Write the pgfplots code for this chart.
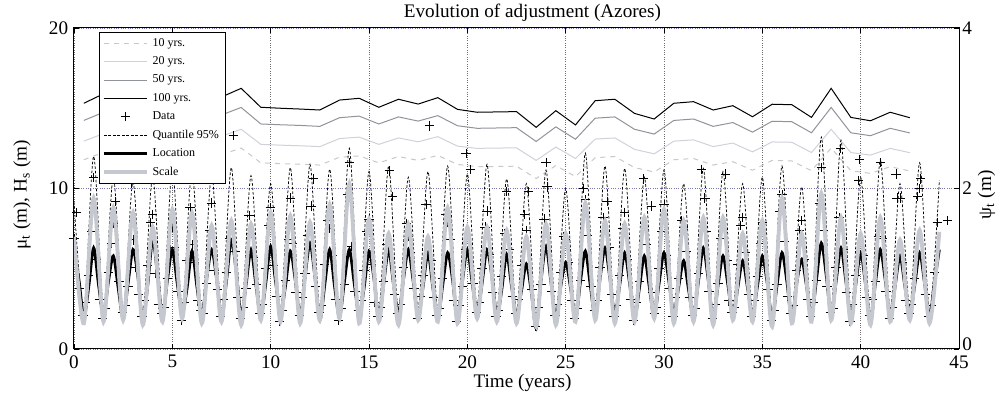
\documentclass[border=0pt]{standalone}
\usepackage{pgfplots}
\pgfplotsset{compat=1.18}
\usepackage{fontspec}
\setmainfont{Liberation Serif}
\definecolor{rlten}{RGB}{200,200,200}
\definecolor{rltwenty}{RGB}{208,209,218}
\definecolor{rlfifty}{RGB}{145,147,155}
\definecolor{scalec}{RGB}{198,200,207}
\definecolor{xgridc}{RGB}{110,110,110}
\definecolor{ygridc}{RGB}{120,120,175}
\pgfplotsset{
  plusleg/.style={legend image code/.code={\draw[mark repeat=2,mark phase=2,##1] plot coordinates {(0pt,0pt) (13pt,0pt) (26pt,0pt)};}},
}
\begin{document}
\begin{tikzpicture}
\pgfplotsset{
  every tick label/.append style={font=\fontsize{11.5}{13}\selectfont},
  /pgf/number format/assume math mode=true,
}
\begin{axis}[
  width=531pt, height=192.6pt, scale only axis,
  xmin=0, xmax=45, ymin=0, ymax=20,
  xtick={0,5,...,45}, ytick={0,10,20},
  xtick pos=both, ytick pos=left,
  tick align=inside, major tick length=3pt,
  tick style={black, line width=0.5pt},
  axis line style={line width=0.6pt},
  xmajorgrids, ymajorgrids,
  x grid style={densely dotted, xgridc, line width=0.4pt},
  y grid style={densely dotted, ygridc, line width=0.4pt},
  xticklabel style={yshift=-0.3pt},
  title={Evolution of adjustment (Azores)},
  title style={font=\fontsize{11.5}{13}\selectfont, at={(axis description cs:0.5,1)}, anchor=center, yshift=3.3pt, xshift=9.6pt},
  xlabel={Time (years)},
  xlabel style={font=\fontsize{11.5}{13}\selectfont, at={(axis description cs:0.5,0)}, anchor=center, yshift=-20.2pt, xshift=3.6pt},
  ylabel={μ\textsubscript{t} (m), H\textsubscript{s} (m)},
  ylabel style={font=\fontsize{11.5}{13}\selectfont, at={(axis description cs:-0.0588,0.48)}, anchor=center},
]
\coordinate (bl) at (rel axis cs:0,0);
\coordinate (tr) at (rel axis cs:1,1);
% 10 yrs
\addplot[rlten, dashed, line width=0.6pt] coordinates {
(0.5,11.79)(1.5,12.25)(2.5,12.10)(3.5,11.94)(4.5,12.17)(5.5,12.02)(6.5,11.86)(7.5,12.10)(8.5,12.52)(9.5,11.60)(10.5,11.55)(11.5,11.51)(12.5,11.46)(13.5,11.95)(14.5,12.03)(15.5,11.60)(16.5,11.99)(17.5,11.75)(18.5,12.06)(19.5,11.50)(20.5,11.36)(21.5,11.37)(22.5,11.39)(23.5,10.62)(24.5,11.43)(25.5,10.74)(26.5,11.92)(27.5,11.99)(28.5,11.30)(29.5,11.03)(30.5,11.79)(31.5,11.87)(32.5,11.46)(33.5,11.67)(34.5,11.14)(35.5,11.75)(36.5,11.72)(37.5,11.11)(38.5,12.52)(39.5,11.11)(40.5,10.94)(41.5,11.36)(42.5,11.09)};
% 20 yrs
\addplot[rltwenty, line width=0.6pt] coordinates {
(0.5,12.95)(1.5,13.42)(2.5,13.26)(3.5,13.10)(4.5,13.34)(5.5,13.18)(6.5,13.02)(7.5,13.26)(8.5,13.69)(9.5,12.75)(10.5,12.70)(11.5,12.66)(12.5,12.61)(13.5,13.11)(14.5,13.20)(15.5,12.75)(16.5,13.15)(17.5,12.91)(18.5,13.23)(19.5,12.64)(20.5,12.50)(21.5,12.52)(22.5,12.53)(23.5,11.75)(24.5,12.58)(25.5,11.87)(26.5,13.08)(27.5,13.15)(28.5,12.44)(29.5,12.16)(30.5,12.95)(31.5,13.03)(32.5,12.61)(33.5,12.83)(34.5,12.28)(35.5,12.90)(36.5,12.88)(37.5,12.24)(38.5,13.69)(39.5,12.24)(40.5,12.08)(41.5,12.50)(42.5,12.23)};
% 50 yrs
\addplot[rlfifty, line width=0.6pt] coordinates {
(0.5,14.24)(1.5,14.75)(2.5,14.58)(3.5,14.41)(4.5,14.67)(5.5,14.49)(6.5,14.32)(7.5,14.58)(8.5,15.05)(9.5,14.02)(10.5,13.97)(11.5,13.93)(12.5,13.87)(13.5,14.41)(14.5,14.51)(15.5,14.02)(16.5,14.46)(17.5,14.20)(18.5,14.54)(19.5,13.91)(20.5,13.75)(21.5,13.77)(22.5,13.79)(23.5,12.93)(24.5,13.84)(25.5,13.07)(26.5,14.38)(27.5,14.46)(28.5,13.69)(29.5,13.39)(30.5,14.24)(31.5,14.33)(32.5,13.87)(33.5,14.11)(34.5,13.51)(35.5,14.19)(36.5,14.16)(37.5,13.47)(38.5,15.05)(39.5,13.47)(40.5,13.29)(41.5,13.75)(42.5,13.46)};
% 100 yrs
\addplot[black, line width=0.6pt] coordinates {
(0.5,15.31)(1.5,15.9)(2.5,15.7)(3.5,15.5)(4.5,15.8)(5.5,15.6)(6.5,15.4)(7.5,15.7)(8.5,16.24)(9.5,15.06)(10.5,15.0)(11.5,14.95)(12.5,14.89)(13.5,15.51)(14.5,15.62)(15.5,15.06)(16.5,15.56)(17.5,15.26)(18.5,15.66)(19.5,14.93)(20.5,14.75)(21.5,14.77)(22.5,14.79)(23.5,13.81)(24.5,14.85)(25.5,13.96)(26.5,15.47)(27.5,15.56)(28.5,14.68)(29.5,14.33)(30.5,15.31)(31.5,15.41)(32.5,14.89)(33.5,15.16)(34.5,14.47)(35.5,15.25)(36.5,15.22)(37.5,14.43)(38.5,16.24)(39.5,14.43)(40.5,14.22)(41.5,14.75)(42.5,14.41)};
% Data
\addplot[only marks, mark=+, mark size=2.8pt, black, line width=0.5pt] coordinates {
(0,6.9)(0.12,8.5)(0.28,3.8)(0.45,2.1)(0.6,2.9)(0.75,4.6)(0.9,7.3)
(1,10.7)(1.12,5.6)(1.28,3.1)(1.45,1.9)(1.6,2.5)(1.75,4.8)(1.9,6.6)
(2,7.8)(2.12,9.2)(2.28,4.2)(2.45,2.3)(2.6,2.7)(2.75,3.9)(2.9,10.3)
(3,6.8)(3.12,5.1)(3.28,3.4)(3.45,2.0)(3.6,3.0)(3.75,5.2)(3.9,7.9)
(4,8.4)(4.12,4.7)(4.28,2.8)(4.45,2.2)(4.6,2.6)(4.75,4.4)(4.9,6.2)
(5,7.6)(5.12,6.3)(5.28,3.6)(5.45,1.8)(5.6,2.9)(5.75,5.5)(5.9,8.8)
(6,6.5)(6.12,5.4)(6.28,3.0)(6.45,2.4)(6.6,2.2)(6.75,4.1)(6.9,7.4)
(7,9.1)(7.12,4.9)(7.28,3.7)(7.45,2.0)(7.6,3.1)(7.75,4.8)(7.9,6.9)
(8.1,13.3)(8.2,6.1)(8.32,3.2)(8.45,1.9)(8.6,2.6)(8.75,3.8)(8.9,8.3)
(9,7.2)(9.12,5.7)(9.28,4.0)(9.45,2.2)(9.6,2.8)(9.75,5.0)(9.9,7.7)
(10,8.8)(10.12,5.2)(10.28,3.3)(10.45,1.7)(10.6,2.4)(10.75,4.3)(10.9,6.8)
(11,9.4)(11.12,6.6)(11.28,3.5)(11.45,2.1)(11.6,3.2)(11.75,4.7)(11.9,7.1)
(12.05,8.9)(12.18,10.6)(12.28,3.9)(12.45,2.3)(12.6,2.7)(12.75,5.3)(12.9,8.0)
(13,7.5)(13.12,5.8)(13.28,3.1)(13.45,1.8)(13.6,2.5)(13.75,4.0)(13.9,9.6)
(14,11.6)(14.12,6.4)(14.28,3.6)(14.45,2.4)(14.6,3.0)(14.75,4.9)(14.9,7.3)
(15,8.1)(15.12,5.3)(15.28,2.9)(15.45,2.0)(15.6,2.6)(15.75,4.2)(15.9,6.5)
(16.03,11.1)(16.2,9.5)(16.28,3.4)(16.45,2.2)(16.6,2.8)(16.75,5.1)(16.9,7.8)
(17,7.0)(17.12,6.0)(17.28,3.8)(17.45,1.9)(17.6,3.3)(17.75,4.6)(17.9,9.0)
(18.08,13.9)(18.15,5.5)(18.28,3.2)(18.45,2.1)(18.6,2.5)(18.75,4.4)(18.9,8.4)
(19,7.9)(19.12,6.8)(19.28,3.0)(19.45,1.7)(19.6,2.7)(19.75,3.9)(19.9,6.2)
(19.93,12.2)(20.15,11.2)(20.28,4.1)(20.45,2.3)(20.6,2.9)(20.75,5.0)(20.9,7.6)
(21,8.6)(21.12,5.9)(21.28,3.5)(21.45,2.0)(21.6,2.4)(21.75,4.5)(21.9,7.2)
(22,9.8)(22.12,6.2)(22.28,3.3)(22.45,2.2)(22.6,3.1)(22.75,5.2)(22.9,8.4)
(23,7.4)(23.1,9.8)(23.28,3.7)(23.45,1.4)(23.6,2.6)(23.75,4.0)(23.9,8.1)
(24,11.6)(24.05,10.1)(24.28,3.6)(24.45,2.1)(24.6,2.8)(24.75,4.8)(24.9,7.0)
(25,6.8)(25.12,5.4)(25.28,3.0)(25.45,1.9)(25.6,2.5)(25.75,4.3)(25.9,10.0)
(26,9.3)(26.12,7.1)(26.28,3.9)(26.45,2.4)(26.6,3.0)(26.75,5.1)(26.9,8.2)
(27.1,9.2)(27.2,6.3)(27.32,3.4)(27.45,2.0)(27.6,2.7)(27.75,4.6)(27.9,7.5)
(28,8.5)(28.12,5.6)(28.28,3.1)(28.45,1.8)(28.6,2.9)(28.75,4.2)(28.97,10.6)
(29.1,6.5)(29.36,8.9)(29.4,3.5)(29.5,2.2)(29.6,2.6)(29.75,5.0)(29.9,7.3)
(30,9.0)(30.12,5.8)(30.28,3.8)(30.45,2.0)(30.6,3.2)(30.75,4.4)(30.9,8.0)
(31,7.6)(31.12,6.1)(31.28,3.2)(31.45,2.1)(31.6,2.5)(31.75,4.7)(31.9,11.2)
(32.08,9.4)(32.15,7.3)(32.28,3.6)(32.45,1.9)(32.6,2.8)(32.75,4.1)(32.9,6.9)
(33.13,10.9)(33.2,5.5)(33.3,3.0)(33.45,2.3)(33.6,2.6)(33.75,5.3)(33.9,7.7)
(34,8.2)(34.12,6.0)(34.28,3.4)(34.45,2.0)(34.6,3.0)(34.75,4.5)(34.9,6.6)
(35,7.9)(35.12,5.2)(35.28,3.7)(35.45,1.8)(35.6,2.4)(35.75,4.0)(35.9,8.6)
(36,9.6)(36.12,6.7)(36.28,3.3)(36.45,2.2)(36.6,2.7)(36.75,4.9)(36.9,7.4)
(37,8.0)(37.12,5.6)(37.28,3.1)(37.45,2.0)(37.6,2.9)(37.75,4.3)(37.9,9.1)
(38,11.3)(38.12,7.4)(38.28,3.9)(38.45,2.3)(38.6,2.5)(38.75,5.1)(38.9,8.2)
(38.98,12.5)(39.12,6.2)(39.28,3.5)(39.45,1.7)(39.6,2.8)(39.75,4.6)(39.9,10.5)
(39.95,11.8)(40.12,5.8)(40.28,3.2)(40.45,2.1)(40.6,3.1)(40.75,4.2)(40.9,7.0)
(41,11.6)(41.12,6.9)(41.28,3.6)(41.45,1.9)(41.6,2.6)(41.8,10.9)(41.85,9.4)
(42,9.4)(42.12,5.4)(42.28,3.0)(42.45,2.2)(42.6,2.8)(42.75,4.4)(42.9,9.5)
(43.05,10.6)(43.0,10.0)(43.28,3.4)(43.45,2.0)(43.6,2.7)(43.75,4.8)(43.9,7.9)
(44.4,8.0)};
% Quantile 95%
\addplot[black, line width=0.45pt, dash pattern=on 1.6pt off 1.1pt, smooth] coordinates {
(0,9.2)(0.5,2.4)(1,12.0)(1.5,2.6)(2,10.7)(2.5,2.5)(3,10.4)(3.5,2.3)(4,10.8)(4.5,2.5)(5,11.2)(5.5,2.7)(6,11.2)(6.5,2.4)(7,10.9)(7.5,2.5)(8,11.3)(8.5,2.3)(9,10.8)(9.5,2.6)(10,10.3)(10.5,2.5)(11,11.3)(11.5,2.4)(12,11.5)(12.5,2.6)(13,11.2)(13.5,2.7)(14,12.5)(14.5,2.4)(15,11.05)(15.5,2.5)(16,11.4)(16.5,2.3)(17,10.7)(17.5,2.6)(18,11.05)(18.5,2.5)(19,11.4)(19.5,2.4)(20,10.9)(20.5,2.7)(21,11.5)(21.5,2.5)(22,10.6)(22.5,2.4)(23,10.3)(23.5,2.1)(24,11.15)(24.5,2.3)(25,10.0)(25.5,2.5)(26,12.2)(26.5,2.6)(27,11.4)(27.5,2.4)(28,11.25)(28.5,2.5)(29,10.7)(29.5,2.7)(30,11.15)(30.5,2.4)(31,10.3)(31.5,2.5)(32,11.25)(32.5,2.3)(33,11.05)(33.5,2.6)(34,10.3)(34.5,2.5)(35,10.7)(35.5,2.2)(36,11.4)(36.5,2.4)(37,10.1)(37.5,2.5)(38,13.2)(38.5,2.6)(39,13.0)(39.5,2.4)(40,10.7)(40.5,2.3)(41,11.8)(41.5,2.5)(42,10.3)(42.5,2.6)(43,11.6)(43.5,2.4)(44,10.5)};
% Location
\addplot[black, line width=1.7pt, smooth] coordinates {
(0,6.2)(0.25,4.3)(0.5,2.0)(0.75,3.9)(1,6.3)(1.25,4.0)(1.5,2.1)(1.75,4.2)(2,5.8)(2.25,3.8)(2.5,1.9)(2.75,4.1)(3,6.2)(3.25,4.5)(3.5,1.7)(3.75,4.0)(4,6.8)(4.25,4.6)(4.5,2.0)(4.75,4.3)(5,6.2)(5.25,4.1)(5.5,2.2)(5.75,3.8)(6,6.1)(6.25,3.9)(6.5,2.0)(6.75,4.4)(7,6.2)(7.25,4.4)(7.5,1.9)(7.75,4.2)(8,6.8)(8.25,4.8)(8.5,2.1)(8.75,4.0)(9,6.2)(9.25,4.0)(9.5,2.0)(9.75,4.1)(10,6.4)(10.25,4.2)(10.5,2.2)(10.75,3.9)(11,6.1)(11.25,4.3)(11.5,1.9)(11.75,4.5)(12,6.6)(12.25,4.5)(12.5,1.8)(12.75,4.0)(13,6.2)(13.25,3.9)(13.5,2.0)(13.75,4.2)(14,6.2)(14.25,4.1)(14.5,2.1)(14.75,3.8)(15,6.1)(15.25,4.4)(15.5,1.9)(15.75,4.1)(16,6.2)(16.25,4.0)(16.5,2.2)(16.75,4.3)(17,6.2)(17.25,4.2)(17.5,2.0)(17.75,3.9)(18,6.0)(18.25,3.8)(18.5,1.9)(18.75,4.0)(19,6.0)(19.25,4.3)(19.5,1.8)(19.75,4.2)(20,6.2)(20.25,4.1)(20.5,2.2)(20.75,4.1)(21,6.2)(21.25,4.5)(21.5,2.0)(21.75,3.7)(22,5.9)(22.25,3.9)(22.5,2.1)(22.75,3.6)(23,5.3)(23.25,3.6)(23.5,1.3)(23.75,4.3)(24,6.4)(24.25,4.2)(24.5,1.9)(24.75,3.9)(25,5.4)(25.25,3.8)(25.5,1.8)(25.75,4.2)(26,6.1)(26.25,4.0)(26.5,2.0)(26.75,4.4)(27,6.3)(27.25,4.4)(27.5,2.1)(27.75,4.0)(28,6.0)(28.25,4.1)(28.5,1.9)(28.75,3.8)(29,5.8)(29.25,3.9)(29.5,2.0)(29.75,4.1)(30,6.0)(30.25,4.2)(30.5,2.2)(30.75,3.9)(31,5.5)(31.25,3.7)(31.5,2.0)(31.75,4.2)(32,6.3)(32.25,4.3)(32.5,1.8)(32.75,4.0)(33,5.8)(33.25,4.0)(33.5,2.0)(33.75,3.8)(34,5.5)(34.25,3.8)(34.5,2.1)(34.75,3.9)(35,5.8)(35.25,4.1)(35.5,1.9)(35.75,4.0)(36,6.0)(36.25,4.2)(36.5,1.8)(36.75,4.1)(37,5.6)(37.25,3.9)(37.5,2.0)(37.75,4.3)(38,6.6)(38.25,4.6)(38.5,2.1)(38.75,4.2)(39,6.3)(39.25,4.2)(39.5,1.9)(39.75,4.0)(40,6.0)(40.25,4.0)(40.5,1.7)(40.75,4.1)(41,6.2)(41.25,4.3)(41.5,2.0)(41.75,3.9)(42,5.8)(42.25,3.9)(42.5,2.1)(42.75,4.0)(43,6.0)(43.25,4.1)(43.5,1.9)(43.75,4.1)(44,6.2)};
\end{axis}
\begin{axis}[
  width=531pt, height=192.6pt, scale only axis,
  xmin=0, xmax=45, ymin=0, ymax=4,
  hide x axis,
  axis y line*=right,
  ytick={2,4},
  extra y ticks={0},
  extra y tick style={yticklabel style={yshift=3pt}},
  tick align=inside, major tick length=3pt,
  tick style={black, line width=0.5pt},
  axis line style={line width=0.6pt, -},
  yticklabel style={xshift=-1.5pt},
  ylabel={ψ\textsubscript{t} (m)},
  ylabel style={font=\fontsize{11.5}{13}\selectfont, at={(axis description cs:1.0311,0.48)}, anchor=center},
  legend image code/.code={\draw[#1] (0pt,0pt) -- (26pt,0pt);},
  legend cell align=left,
  legend style={at={(0.0283,0.9875)}, anchor=north west, draw=black, fill=white,
    font=\fontsize{7.2}{8.7}\selectfont, row sep=0.7pt, inner sep=1.6pt},
]
\addlegendimage{rlten, dashed, line width=0.6pt}
\addlegendentry{10 yrs.}
\addlegendimage{rltwenty, line width=0.6pt}
\addlegendentry{20 yrs.}
\addlegendimage{rlfifty, line width=0.6pt}
\addlegendentry{50 yrs.}
\addlegendimage{black, line width=0.6pt}
\addlegendentry{100 yrs.}
\addlegendimage{only marks, mark=+, mark size=2.8pt, black, line width=0.5pt, plusleg}
\addlegendentry{Data}
\addlegendimage{black, line width=0.45pt, dash pattern=on 1.6pt off 1.1pt}
\addlegendentry{Quantile 95\%}
\addlegendimage{black, line width=1.7pt}
\addlegendentry{Location}
\addplot[scalec, line width=2.3pt, smooth] coordinates {
(0,1.40)(0.5,0.32)(1,1.88)(1.5,0.34)(2,1.76)(2.5,0.36)(3,1.70)(3.5,0.30)(4,1.52)(4.5,0.34)(5,1.74)(5.5,0.38)(6,1.70)(6.5,0.32)(7,1.54)(7.5,0.34)(8,1.60)(8.5,0.30)(9,1.56)(9.5,0.36)(10,1.70)(10.5,0.34)(11,1.66)(11.5,0.32)(12,1.58)(12.5,0.36)(13,1.80)(13.5,0.38)(14,2.06)(14.5,0.32)(15,1.62)(15.5,0.34)(16,1.44)(16.5,0.30)(17,1.56)(17.5,0.36)(18,1.40)(18.5,0.34)(19,1.76)(19.5,0.32)(20,1.52)(20.5,0.38)(21,1.52)(21.5,0.34)(22,1.48)(22.5,0.32)(23,1.40)(23.5,0.28)(24,1.56)(24.5,0.30)(25,1.44)(25.5,0.34)(26,1.82)(26.5,0.36)(27,1.60)(27.5,0.32)(28,1.56)(28.5,0.34)(29,1.64)(29.5,0.38)(30,1.74)(30.5,0.32)(31,1.60)(31.5,0.34)(32,1.64)(32.5,0.30)(33,1.64)(33.5,0.36)(34,1.44)(34.5,0.34)(35,1.60)(35.5,0.28)(36,1.88)(36.5,0.32)(37,1.44)(37.5,0.34)(38,1.94)(38.5,0.36)(39,1.64)(39.5,0.32)(40,1.44)(40.5,0.30)(41,1.64)(41.5,0.34)(42,1.36)(42.5,0.36)(43,1.48)(43.5,0.32)(44,1.46)};
\addlegendentry{Scale}
\end{axis}
\pgfresetboundingbox
\path[use as bounding box] ([xshift=-44.4pt,yshift=-31.2pt]bl) rectangle ([xshift=24pt,yshift=16.8pt]tr);
\end{tikzpicture}
\end{document}
